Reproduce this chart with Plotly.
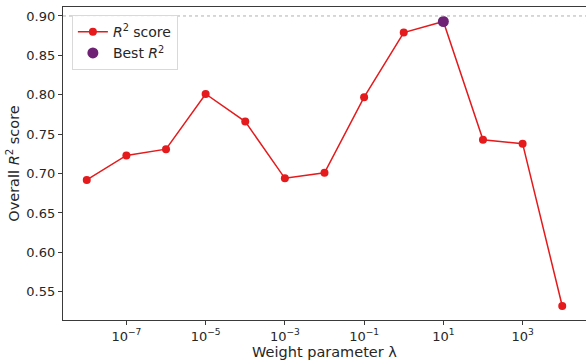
import plotly.graph_objects as go

lambdas = [1e-8, 1e-7, 1e-6, 1e-5, 1e-4, 1e-3, 1e-2, 1e-1, 1e0, 1e1, 1e2, 1e3, 1e4]
r2_scores = [0.692, 0.723, 0.731, 0.801, 0.766, 0.694, 0.701, 0.797, 0.879, 0.893, 0.743, 0.738, 0.532]
best_lambda = [1e1]
best_r2 = [0.893]
ref_line = 0.90

x_tickvals = [1e-7, 1e-5, 1e-3, 1e-1, 1e1, 1e3]
x_ticktext = ["10<sup>\u22127</sup>", "10<sup>\u22125</sup>", "10<sup>\u22123</sup>",
              "10<sup>\u22121</sup>", "10<sup>1</sup>", "10<sup>3</sup>"]
y_tickvals = [0.55, 0.60, 0.65, 0.70, 0.75, 0.80, 0.85, 0.90]
y_ticktext = ["0.55", "0.60", "0.65", "0.70", "0.75", "0.80", "0.85", "0.90"]

font_family = "DejaVu Sans"
text_color = "#262626"
axis_color = "#3a3a3a"

fig = go.Figure()
fig.add_trace(go.Scatter(
    x=lambdas, y=r2_scores, mode="lines+markers",
    line=dict(color="#e41a1c", width=1.5),
    marker=dict(color="#e41a1c", size=8),
    name="<i>R</i><sup>2</sup> score",
))
fig.add_trace(go.Scatter(
    x=best_lambda, y=best_r2, mode="markers",
    marker=dict(color="#6e2175", size=11),
    name="Best <i>R</i><sup>2</sup>",
))
fig.add_hline(y=ref_line, line=dict(color="#b0b0b0", width=1, dash="dot"))

fig.update_layout(
    width=586, height=363,
    margin=dict(l=63, r=0, t=7, b=43, autoexpand=False),
    paper_bgcolor="white", plot_bgcolor="white",
    font=dict(family=font_family, color=text_color, size=13),
    showlegend=True,
    legend=dict(
        x=0.017, y=0.974, xanchor="left", yanchor="top",
        bgcolor="rgba(255,255,255,0.85)", bordercolor="#d9d9d9", borderwidth=1,
        font=dict(size=14, family=font_family, color=text_color),
        itemwidth=30, tracegroupgap=2,
    ),
    xaxis=dict(
        type="log", range=[-8.6, 4.6],
        tickvals=x_tickvals, ticktext=x_ticktext,
        showgrid=False, zeroline=False,
        showline=True, linecolor=axis_color, linewidth=1.2, mirror=True,
        ticks="outside", ticklen=4, tickcolor=axis_color,
        tickfont=dict(size=13, family=font_family, color=text_color),
        title=dict(text="Weight parameter \u03bb", font=dict(size=14.5, family=font_family, color=text_color), standoff=2),
    ),
    yaxis=dict(
        range=[0.5142, 0.9114],
        tickvals=y_tickvals, ticktext=y_ticktext,
        showgrid=False, zeroline=False,
        showline=True, linecolor=axis_color, linewidth=1.2, mirror=False,
        ticks="outside", ticklen=4, tickcolor=axis_color,
        tickfont=dict(size=13, family=font_family, color=text_color),
        title=dict(text="Overall <i>R</i><sup>2</sup> score", font=dict(size=14.5, family=font_family, color=text_color), standoff=3),
    ),
)

fig.write_html("out.html", config={"displayModeBar": False},
               post_script="document.body.style.margin='0';document.body.style.overflow='hidden';")
